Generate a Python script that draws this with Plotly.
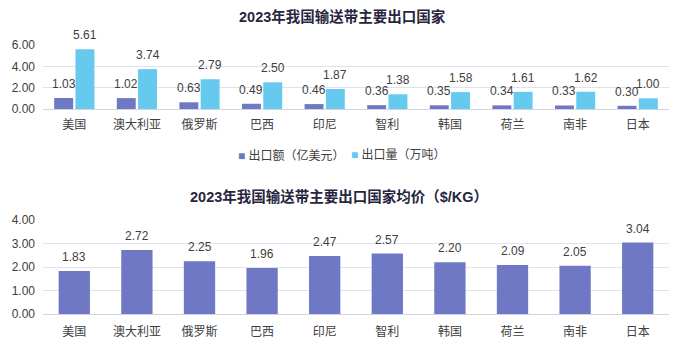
import plotly.graph_objects as go
from plotly.subplots import make_subplots

countries = ["美国", "澳大利亚", "俄罗斯", "巴西", "印尼", "智利", "韩国", "荷兰", "南非", "日本"]
export_value = [1.03, 1.02, 0.63, 0.49, 0.46, 0.36, 0.35, 0.34, 0.33, 0.30]
export_volume = [5.61, 3.74, 2.79, 2.50, 1.87, 1.38, 1.58, 1.61, 1.62, 1.00]
avg_price = [1.83, 2.72, 2.25, 1.96, 2.47, 2.57, 2.20, 2.09, 2.05, 3.04]

title_top = "2023年我国输送带主要出口国家"
title_bottom = "2023年我国输送带主要出口国家均价（$/KG）"
name_value = "出口额（亿美元）"
name_volume = "出口量（万吨）"

FONT = "Arial, Liberation Sans, Noto Sans CJK SC, sans-serif"
TXT = "#404040"
BLUE = "#6f78c4"
CYAN = "#66caee"
GRID = "#e2e2ee"

BARGAP = 0.32
BARGROUPGAP = 0.11

fig = make_subplots(rows=2, cols=1)

fig.add_trace(go.Bar(x=countries, y=export_value, name=name_value,
                     marker=dict(color=BLUE, line=dict(width=0)), showlegend=False),
              row=1, col=1)
fig.add_trace(go.Bar(x=countries, y=export_volume, name=name_volume,
                     marker=dict(color=CYAN, line=dict(width=0)), showlegend=False),
              row=1, col=1)
fig.add_trace(go.Bar(x=countries, y=avg_price, name="均价", width=0.5,
                     marker=dict(color=BLUE, line=dict(width=0)), showlegend=False),
              row=2, col=1)

x0, x1 = 43 / 687, 669 / 687
fig.update_xaxes(domain=[x0, x1], range=[-0.5, 9.5], showgrid=False, automargin=False,
                 showline=True, linecolor="#d4d4de", linewidth=1,
                 tickfont=dict(size=12, color=TXT, family=FONT), ticks="")
fig.update_xaxes(ticklabelstandoff=5, row=1, col=1)
fig.update_xaxes(ticklabelstandoff=7, row=2, col=1)
fig.update_yaxes(showgrid=True, gridcolor=GRID, gridwidth=1, zeroline=False, automargin=False,
                 tickformat=".2f", tickfont=dict(size=12, color=TXT, family=FONT),
                 ticks="", ticklabelstandoff=7)
fig.update_yaxes(domain=[1 - 109 / 356, 1 - 45 / 356], range=[0, 6], dtick=2, row=1, col=1)
fig.update_yaxes(domain=[1 - 314 / 356, 1 - 220 / 356], range=[0, 4], dtick=1, row=2, col=1)

# value labels above bars
slot = (1 - BARGAP) / 2
for i, c in enumerate(countries):
    for val, off in ((export_value[i], -slot / 2), (export_volume[i], slot / 2)):
        fig.add_annotation(x=i + off, y=val, xref="x", yref="y", text=f"{val:.2f}",
                           showarrow=False, xanchor="center", yanchor="bottom", yshift=5,
                           font=dict(size=12, color=TXT, family=FONT))
    fig.add_annotation(x=i, y=avg_price[i], xref="x2", yref="y2", text=f"{avg_price[i]:.2f}",
                       showarrow=False, xanchor="center", yanchor="bottom", yshift=5,
                       font=dict(size=12, color=TXT, family=FONT))

fig.add_annotation(text=f"<b>{title_top}</b>", xref="paper", yref="paper",
                   x=342 / 687, y=1 - 17 / 356, xanchor="center", yanchor="middle",
                   showarrow=False, font=dict(size=14.5, color="#262640", family=FONT))
fig.add_annotation(text=f"<b>{title_bottom}</b>", xref="paper", yref="paper",
                   x=339 / 687, y=1 - 196 / 356, xanchor="center", yanchor="middle",
                   showarrow=False, font=dict(size=14.5, color="#262640", family=FONT))

# legend drawn as text with coloured squares
fig.add_annotation(text=f"<span style='color:{BLUE}'>■</span> {name_value}", xref="paper", yref="paper",
                   x=236 / 687, y=1 - 155 / 356, xanchor="left", yanchor="middle",
                   showarrow=False, font=dict(size=12, color=TXT, family=FONT))
fig.add_annotation(text=f"<span style='color:{CYAN}'>■</span> {name_volume}", xref="paper", yref="paper",
                   x=349 / 687, y=1 - 155 / 356, xanchor="left", yanchor="middle",
                   showarrow=False, font=dict(size=12, color=TXT, family=FONT))

fig.update_layout(
    width=687, height=356,
    margin=dict(l=0, r=0, t=0, b=0),
    paper_bgcolor="white", plot_bgcolor="white",
    barmode="group", bargap=BARGAP, bargroupgap=BARGROUPGAP,
    font=dict(family=FONT, size=12, color=TXT),
    showlegend=False,
)

fig.write_html("out.html", config={"displayModeBar": False},
               post_script="document.body.style.margin='0';document.body.style.overflow='hidden';")
